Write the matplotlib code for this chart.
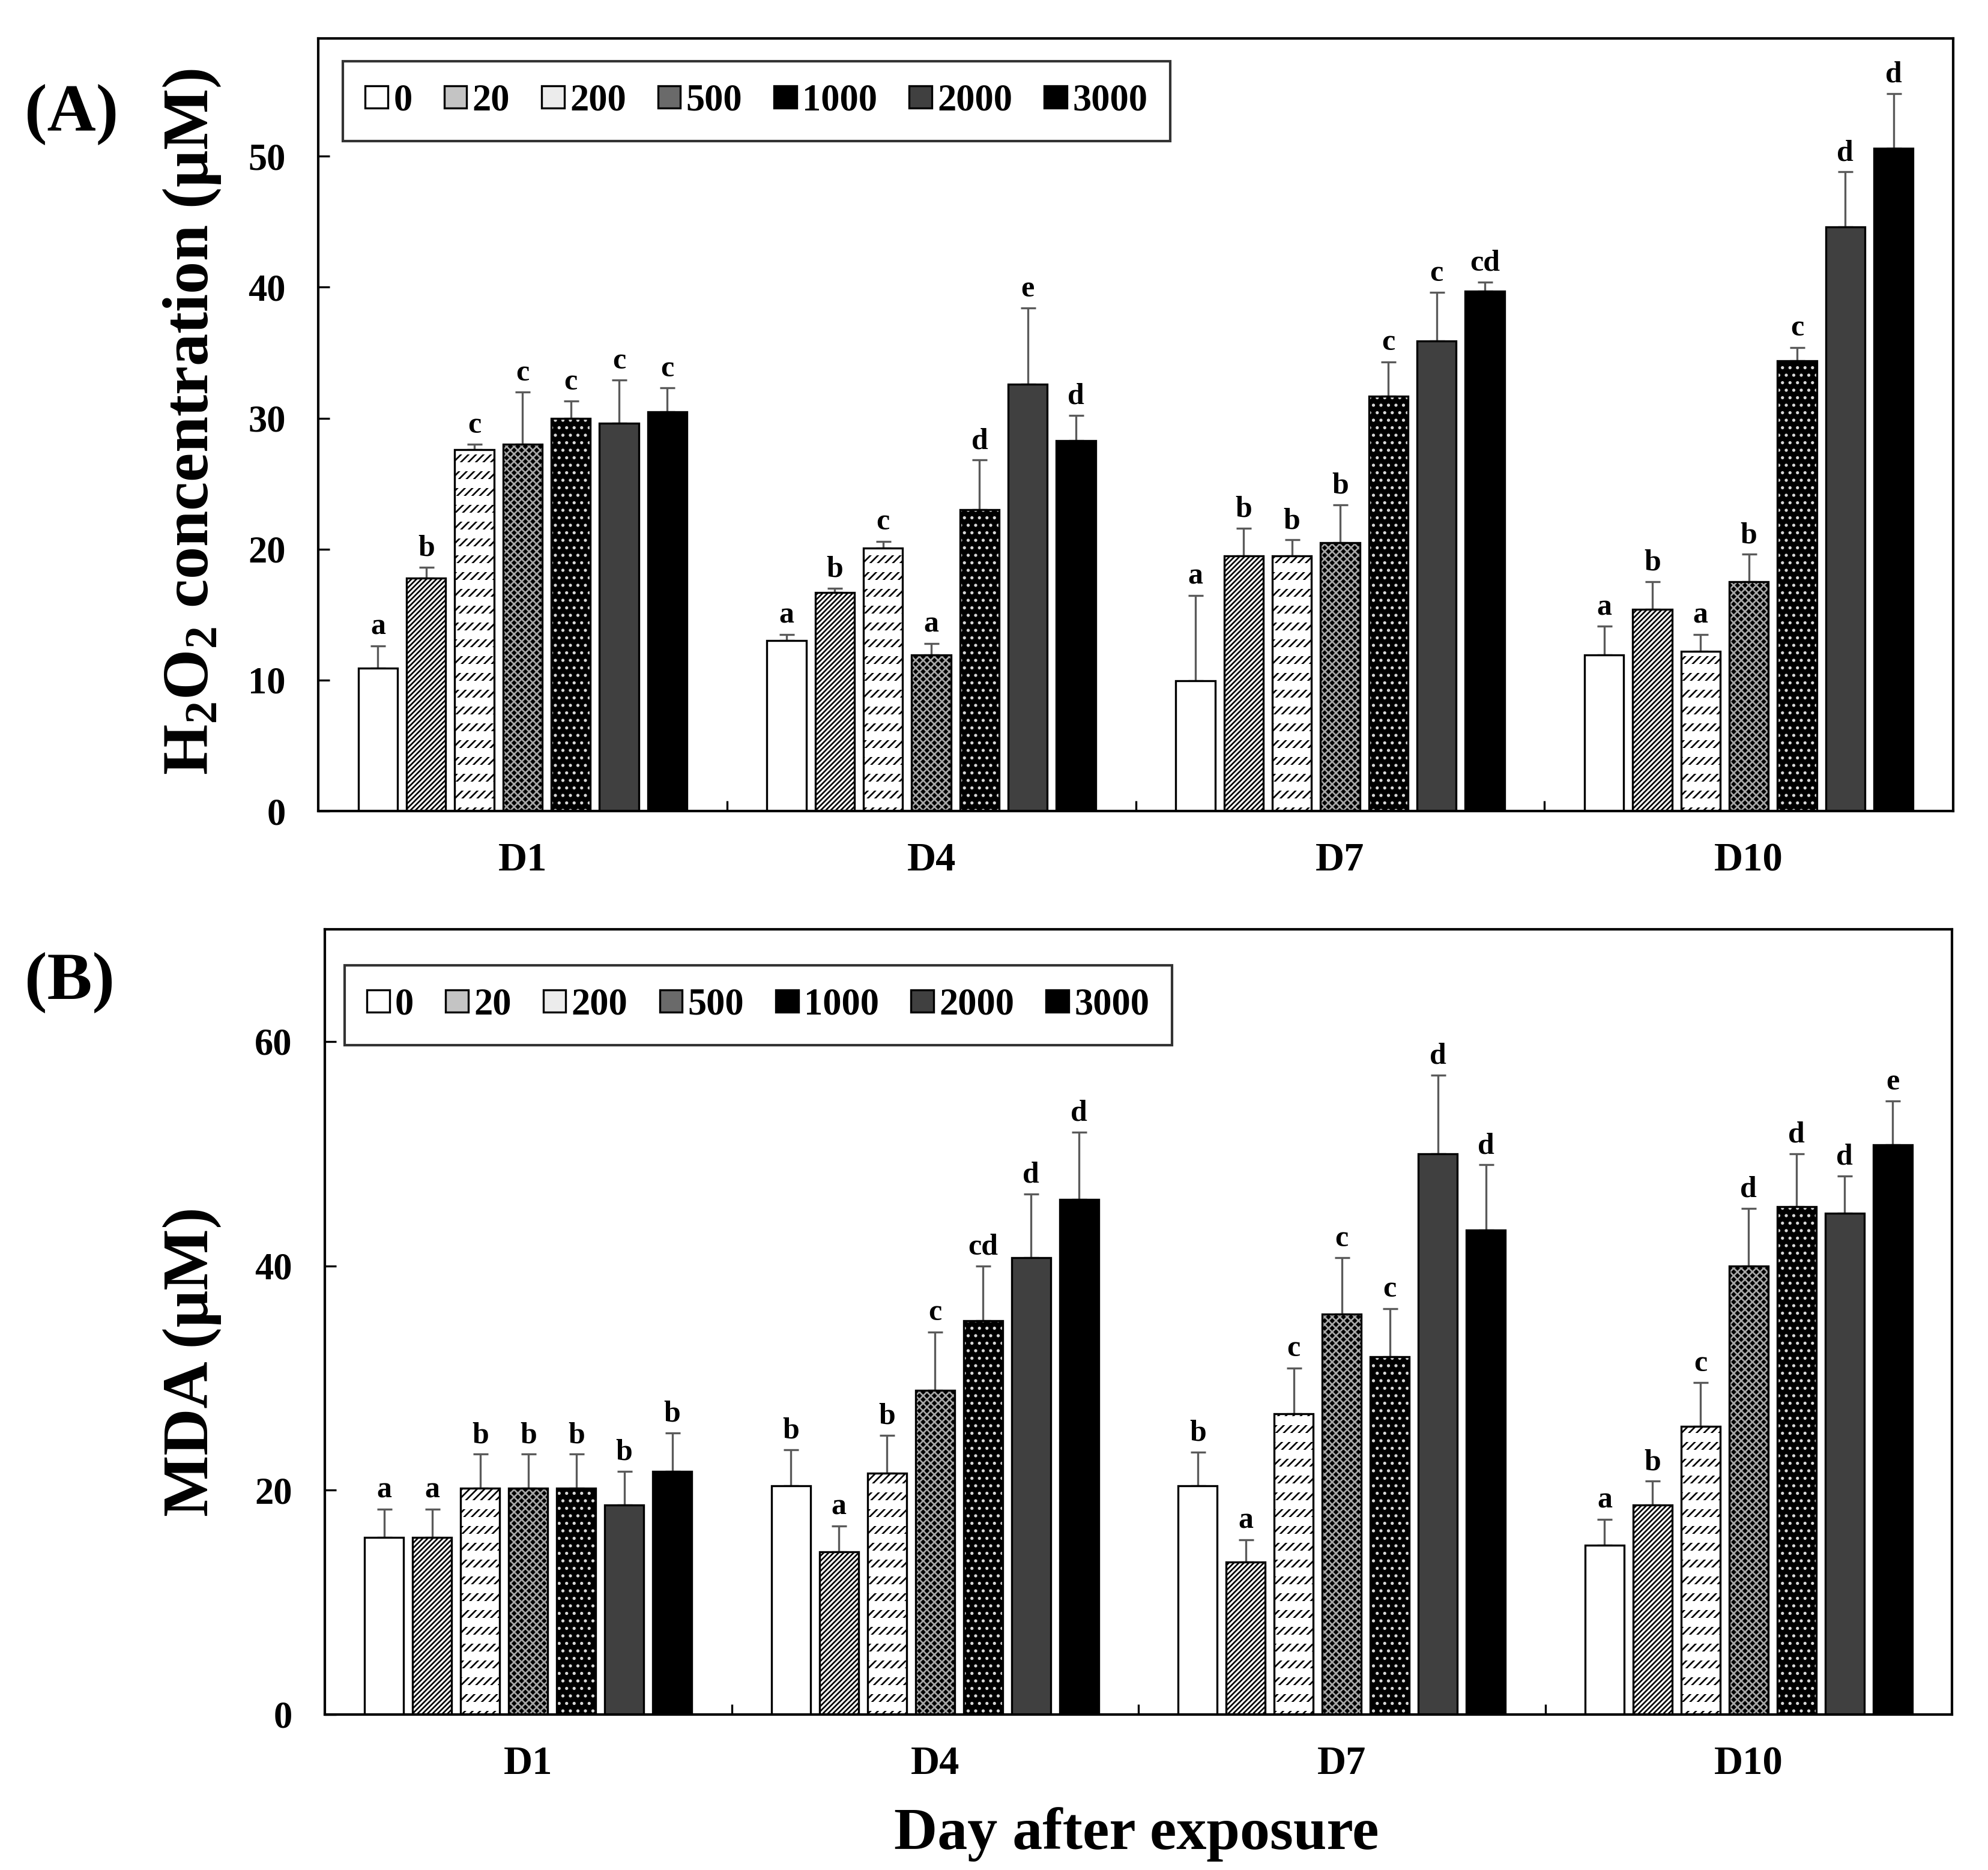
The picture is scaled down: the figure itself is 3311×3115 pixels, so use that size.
import matplotlib
matplotlib.use("Agg")
import matplotlib.pyplot as plt
from matplotlib.patches import Patch
import numpy as np

plt.rcParams['font.family'] = ['Liberation Serif', 'DejaVu Serif']
plt.rcParams['font.weight'] = 'bold'
plt.rcParams['mathtext.default'] = 'regular'
plt.rcParams['hatch.linewidth'] = 0.65

# data
days = ["D1", "D4", "D7", "D10"]
doses = ["0", "20", "200", "500", "1000", "2000", "3000"]

# H2O2 (uM): rows = dose, cols = day
h2o2_mean = [
    [10.9, 13.0, 9.95, 11.9],
    [17.8, 16.7, 19.5, 15.4],
    [27.6, 20.1, 19.5, 12.2],
    [28.0, 11.9, 20.5, 17.5],
    [30.0, 23.0, 31.7, 34.4],
    [29.6, 32.6, 35.9, 44.6],
    [30.5, 28.3, 39.7, 50.6],
]
h2o2_sd = [
    [1.7, 0.5, 6.5, 2.2],
    [0.8, 0.3, 2.1, 2.1],
    [0.4, 0.5, 1.2, 1.3],
    [4.0, 0.9, 2.9, 2.1],
    [1.3, 3.8, 2.6, 1.0],
    [3.3, 5.8, 3.7, 4.2],
    [1.8, 1.9, 0.7, 4.2],
]
h2o2_sig = [
    ["a", "a", "a", "a"],
    ["b", "b", "b", "b"],
    ["c", "c", "b", "a"],
    ["c", "a", "b", "b"],
    ["c", "d", "c", "c"],
    ["c", "e", "c", "d"],
    ["c", "d", "cd", "d"],
]

# MDA (uM)
mda_mean = [
    [15.8, 20.4, 20.4, 15.1],
    [15.8, 14.5, 13.6, 18.7],
    [20.2, 21.5, 26.8, 25.7],
    [20.2, 28.9, 35.7, 40.0],
    [20.2, 35.1, 31.9, 45.3],
    [18.7, 40.7, 50.0, 44.7],
    [21.7, 45.9, 43.2, 50.8],
]
mda_sd = [
    [2.5, 3.2, 3.0, 2.3],
    [2.5, 2.3, 2.0, 2.1],
    [3.0, 3.4, 4.1, 3.9],
    [3.0, 5.2, 5.0, 5.1],
    [3.0, 4.9, 4.3, 4.7],
    [3.0, 5.7, 7.0, 3.3],
    [3.4, 6.0, 5.8, 3.9],
]
mda_sig = [
    ["a", "b", "b", "a"],
    ["a", "a", "a", "b"],
    ["b", "b", "c", "c"],
    ["b", "c", "c", "d"],
    ["b", "cd", "c", "d"],
    ["b", "d", "d", "d"],
    ["b", "d", "d", "e"],
]

# styles per dose: face, hatch, hatch colour
faces = ["white", "white", "white", "black", "black", "#404040", "black"]
hatches = [None, "/" * 12, "/" * 8, "x" * 8, "." * 4, None, None]
hcolors = ["black", "black", "black", "#a8a8a8", "#d8d8d8", "black", "black"]
legend_faces = ["white", "#c4c4c4", "#ececec", "#6a6a6a", "black", "#404040", "black"]

W, H = 3311, 3115
fig = plt.figure(figsize=(W / 300, H / 300), dpi=300)
axA = fig.add_axes([530 / W, 1 - 1351 / H, (3253 - 530) / W, (1351 - 64) / H])
axB = fig.add_axes([541 / W, 1 - 2856 / H, (3251 - 541) / W, (2856 - 1548) / H])

x = np.arange(len(days))
step = 0.118
bw = 0.096


def draw_panel(ax, means, sds, sig, ymax, yticks, leg_anchor):
    # pixels per data unit on the y axis, used for the dash rows of the 200 bars
    ppu = ax.get_position().height * H / ymax
    row = 28 / ppu
    for i in range(len(doses)):
        pos = x + (i - 3) * step
        m = np.array(means[i])
        s = np.array(sds[i])
        ax.errorbar(pos, m, yerr=[np.zeros_like(s), s], fmt='none',
                    ecolor='#5a5a5a', elinewidth=0.8, capsize=3,
                    capthick=0.8, zorder=1)
        bars = ax.bar(pos, m, bw, color=faces[i], edgecolor=hcolors[i],
                      linewidth=0, hatch=hatches[i], zorder=2)
        if i == 2:
            # white bands cut the slanted lines into rows of short dashes
            for p, xx, hh in zip(bars.patches, pos, m):
                ys = np.arange(row * 0.5, hh, row)
                lc = ax.hlines(ys, xx - bw / 2, xx + bw / 2, colors='white',
                               linewidth=3.6, zorder=3)
                lc.set_clip_path(p)
        ax.bar(pos, m, bw, color='none', edgecolor='black',
               linewidth=0.8, zorder=4)
        for xx, top, lab in zip(pos, m + s, sig[i]):
            ax.annotate(lab, (xx, top), xytext=(0, 2), textcoords='offset points',
                        ha='center', va='bottom', fontsize=12, fontweight='bold')

    ax.set_xlim(-0.5, len(days) - 0.5)
    ax.set_ylim(0, ymax)
    ax.set_yticks(yticks)
    ax.set_xticks(x)
    ax.set_xticklabels(days)
    ax.set_xticks(x[:-1] + 0.5, minor=True)
    ax.tick_params(axis='x', which='major', length=0, pad=12.5, labelsize=16)
    ax.tick_params(axis='x', which='minor', direction='in', length=4, width=0.8)
    ax.tick_params(axis='y', direction='in', length=4.5, width=0.8, pad=13, labelsize=15)
    for t in ax.get_xticklabels() + ax.get_yticklabels():
        t.set_fontweight('bold')
    for sp in ax.spines.values():
        sp.set_linewidth(1.0)

    handles = [Patch(facecolor=c, edgecolor='black', linewidth=0.8) for c in legend_faces]
    leg = ax.legend(handles, doses, ncol=7, loc='upper left', bbox_to_anchor=leg_anchor,
                    borderaxespad=0, frameon=True, fancybox=False, edgecolor='black',
                    prop={'size': 15, 'weight': 'bold'}, handlelength=0.6,
                    handleheight=0.55, handletextpad=0.15, columnspacing=0.85,
                    borderpad=0.6)
    leg.get_frame().set_linewidth(1.0)


draw_panel(axA, h2o2_mean, h2o2_sd, h2o2_sig, 59, [0, 10, 20, 30, 40, 50], (0.015, 0.9705))
draw_panel(axB, mda_mean, mda_sd, mda_sig, 70, [0, 20, 40, 60], (0.012, 0.954))

fig.text(320 / W, 1 - 703 / H, "H$_2$O$_2$ concentration (μM)", rotation=90,
         ha='center', va='center', fontsize=26, fontweight='bold')
fig.text(320 / W, 1 - 2268 / H, "MDA (μM)", rotation=90,
         ha='center', va='center', fontsize=26, fontweight='bold')
fig.text(41 / W, 1 - 190 / H, "(A)", ha='left', va='center', fontsize=27, fontweight='bold')
fig.text(41 / W, 1 - 1636 / H, "(B)", ha='left', va='center', fontsize=27, fontweight='bold')
fig.text(1893 / W, 1 - 3080 / H, "Day after exposure", ha='center', va='baseline',
         fontsize=24, fontweight='bold')

fig.savefig("out.png", dpi=300)
